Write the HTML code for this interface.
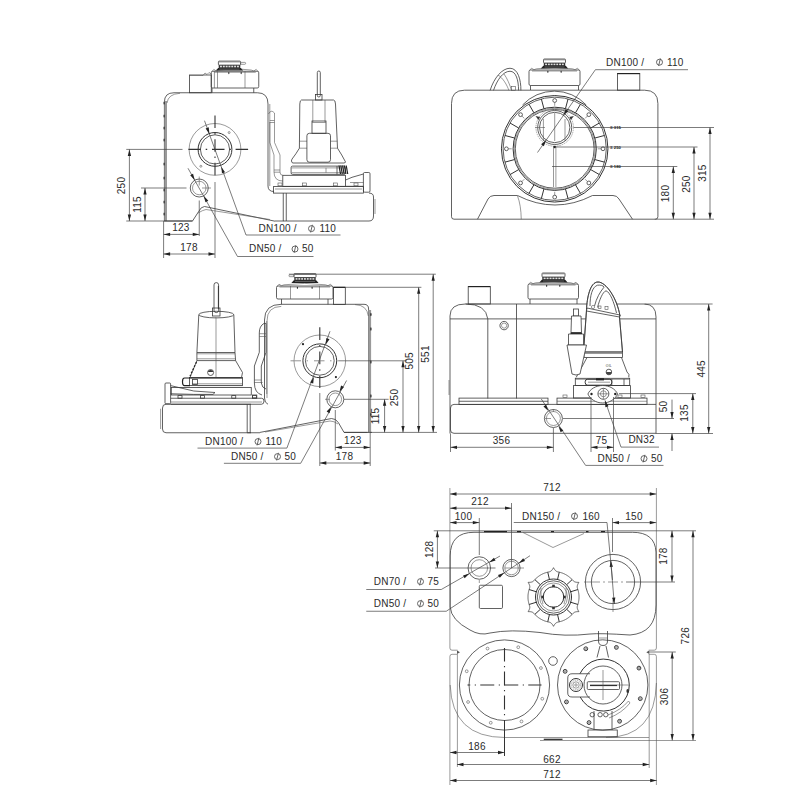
<!DOCTYPE html>
<html><head><meta charset="utf-8"><style>
html,body{margin:0;padding:0;background:#fff;}
svg{display:block;}
.o{fill:none;stroke:#3a3a3a;stroke-width:0.8}
.t{fill:none;stroke:#555;stroke-width:0.6}
.d{fill:none;stroke:#444;stroke-width:0.7}
.gw{fill:#9a9a9a;stroke:none}
.dk{fill:#222;stroke:none}
.dk2{fill:none;stroke:#222;stroke-width:1.2}
.ar{fill:#222;stroke:none}
.ph{fill:none;stroke:#555;stroke-width:0.9}
.cl{fill:none;stroke:#333;stroke-width:1.1;stroke-dasharray:14 4.5 1.2 4.3}
.g{fill:none;stroke:#888;stroke-width:0.7;stroke-dasharray:1.5 0.8}
.ow{fill:#fff;stroke:#3a3a3a;stroke-width:0.8}
.o1{fill:none;stroke:#333;stroke-width:1}
.o2{fill:none;stroke:#333;stroke-width:1.3}
.txb{font-family:"Liberation Sans",sans-serif;fill:#222;font-weight:bold}
.tx{font-family:"Liberation Sans",sans-serif;fill:#2a2a2a;letter-spacing:0.22px}
</style></head><body>
<svg width="800" height="800" viewBox="0 0 800 800">
<path d="M164.4,221 V102 Q164.4,92.75 174,92.75 H257.5 Q268,92.75 268,104 V186 Q268,191.5 274,191.5" class="o" />
<rect x="164.6" y="101" width="2.4" height="120" class="gw"/>
<path d="M167,103 Q168,94 180,93.3" class="t" />
<line x1="269.8" y1="104" x2="269.8" y2="186" class="t" />
<ellipse cx="164.1" cy="103" rx="0.6" ry="1.6" fill="#222"/>
<ellipse cx="164.1" cy="116" rx="0.6" ry="1.6" fill="#222"/>
<ellipse cx="164.1" cy="128" rx="0.6" ry="1.6" fill="#222"/>
<ellipse cx="164.1" cy="140" rx="0.6" ry="1.6" fill="#222"/>
<ellipse cx="164.1" cy="164" rx="0.6" ry="1.6" fill="#222"/>
<ellipse cx="164.1" cy="178" rx="0.6" ry="1.6" fill="#222"/>
<ellipse cx="164.1" cy="190" rx="0.6" ry="1.6" fill="#222"/>
<ellipse cx="164.1" cy="202" rx="0.6" ry="1.6" fill="#222"/>
<ellipse cx="164.1" cy="214" rx="0.6" ry="1.6" fill="#222"/>
<line x1="164.4" y1="221" x2="192.5" y2="221" class="o" />
<line x1="275" y1="221" x2="283.25" y2="221" class="o" />
<rect x="189.4" y="75" width="21.85" height="17.75" class="o"/>
<path d="M189.4,75.5 H203 L205,73 L207,74.5 L209,72.5 L211.25,74" class="t" />
<rect x="211.25" y="71.25" width="47.5" height="16.75" class="o" rx="1.5"/>
<path d="M211.75,71.75 L213.75,69.45 L216.25,70.95 L218.75,70.05" class="t"/>
<path d="M258.25,71.75 L256.25,69.45 L253.75,70.95 L251.25,70.05" class="t"/>
<path d="M218.75,70.05 Q235,67.25 251.25,70.05" class="t"/>
<line x1="214.25" y1="72.25" x2="255.75" y2="72.25" class="t"/>
<line x1="214.4" y1="71.25" x2="214.4" y2="88" class="t"/>
<line x1="217.5" y1="71.25" x2="217.5" y2="88" class="t"/>
<line x1="245" y1="71.25" x2="245" y2="88" class="t"/>
<path d="M212,88 V92.75 M253.75,88 V92.75" class="o"/>
<ellipse cx="228.82" cy="73.05" rx="0.6" ry="1.1" fill="#222"/>
<ellipse cx="241.18" cy="73.05" rx="0.6" ry="1.1" fill="#222"/>
<rect x="218.4" y="61.1" width="22.2" height="4" class="o" rx="0.8"/>
<rect x="218.4" y="61.1" width="22.2" height="1.3" fill="#8a8a8a"/>
<rect x="218.7" y="65.1" width="21.6" height="3.4" fill="#333"/>
<rect x="220" y="65.7" width="1.93" height="1.6" fill="#ddd"/>
<rect x="222.83" y="65.7" width="1.93" height="1.6" fill="#ddd"/>
<rect x="225.66" y="65.7" width="1.93" height="1.6" fill="#ddd"/>
<rect x="228.49" y="65.7" width="1.93" height="1.6" fill="#ddd"/>
<rect x="231.31" y="65.7" width="1.93" height="1.6" fill="#ddd"/>
<rect x="234.14" y="65.7" width="1.93" height="1.6" fill="#ddd"/>
<rect x="236.97" y="65.7" width="1.93" height="1.6" fill="#ddd"/>
<polygon points="218.2,67.9 240.8,67.9 243.2,70.5 215.8,70.5" fill="#222"/>
<line x1="219.4" y1="69.1" x2="239.6" y2="69.1" stroke="#888" stroke-width="0.6"/>
<rect x="240.6" y="62.4" width="5" height="1.9" class="t" rx="0.8"/>
<circle cx="215" cy="149.4" r="25.9" class="t" />
<circle cx="215" cy="149.4" r="16.9" class="o1" />
<circle cx="215" cy="149.4" r="14.6" class="o" />
<circle cx="229.14" cy="132.55" r="1" class="t" />
<circle cx="200.86" cy="166.25" r="1" class="t" />
<line x1="126.25" y1="149.4" x2="182.5" y2="149.4" class="d" />
<line x1="188.4" y1="149.4" x2="249" y2="149.4" fill="none" stroke="#333" stroke-width="1.1" stroke-dasharray="12.5 4.8 1.5 4.8" stroke-dashoffset="0"/>
<line x1="215" y1="115.6" x2="215" y2="176" fill="none" stroke="#333" stroke-width="1.1" stroke-dasharray="12.5 4.8 1.5 4.8" stroke-dashoffset="0"/>
<line x1="215" y1="182" x2="215" y2="258" class="d" />
<circle cx="199.25" cy="188" r="9" class="o" />
<circle cx="199.25" cy="188" r="6.75" class="t" />
<line x1="141" y1="188" x2="186.5" y2="188" class="d" />
<line x1="202" y1="188" x2="211" y2="188" class="t" />
<line x1="199.25" y1="176.5" x2="199.25" y2="185.5" class="t" />
<line x1="199.25" y1="200.5" x2="199.25" y2="236" class="d" />
<path d="M164.4,221 H192.5 L198.5,211.75 Q201,206.5 204.5,206.5 L275,221.2" class="o" />
<path d="M198,213 Q203,210 206,209.5 L270,219.5" class="t" />
<line x1="204.5" y1="120.7" x2="246" y2="235" class="d" />
<line x1="246" y1="235" x2="340.5" y2="235" class="d" />
<polygon points="209.4,134 205.63,128.46 208.73,127.33" class="ar"/>
<polygon points="221.3,166.7 225.07,172.24 221.97,173.37" class="ar"/>
<line x1="188" y1="168.25" x2="237.5" y2="256.5" class="d" />
<line x1="237.5" y1="256.5" x2="313.5" y2="256.5" class="d" />
<polygon points="194.8,180.2 190.17,175.35 193.05,173.73" class="ar"/>
<polygon points="203.7,195.8 208.33,200.65 205.45,202.27" class="ar"/>
<text x="258.6" y="232" class="tx" text-anchor="start" font-size="10">DN100 /</text>
<circle cx="311.5" cy="228.6" r="3" class="ph" />
<line x1="310.6" y1="232.4" x2="312.4" y2="224.8" class="ph" />
<text x="319.5" y="232" class="tx" text-anchor="start" font-size="10">110</text>
<text x="249" y="252.3" class="tx" text-anchor="start" font-size="10">DN50 /</text>
<circle cx="295" cy="249" r="3" class="ph" />
<line x1="294.1" y1="252.8" x2="295.9" y2="245.2" class="ph" />
<text x="302" y="252.3" class="tx" text-anchor="start" font-size="10">50</text>
<line x1="126.25" y1="221" x2="165" y2="221" class="d" />
<line x1="129.4" y1="149.4" x2="129.4" y2="221" class="d" />
<polygon points="129.4,149.4 131.05,155.9 127.75,155.9" class="ar"/>
<polygon points="129.4,221 127.75,214.5 131.05,214.5" class="ar"/>
<line x1="145" y1="188" x2="145" y2="221" class="d" />
<polygon points="145,188 146.65,194.5 143.35,194.5" class="ar"/>
<polygon points="145,221 143.35,214.5 146.65,214.5" class="ar"/>
<text x="124.5" y="185.5" class="tx" text-anchor="middle" font-size="10" transform="rotate(-90 124.5 185.5)">250</text>
<text x="140.5" y="204.5" class="tx" text-anchor="middle" font-size="10" transform="rotate(-90 140.5 204.5)">115</text>
<line x1="163.6" y1="221" x2="163.6" y2="258" class="d" />
<line x1="163.6" y1="234.4" x2="199.25" y2="234.4" class="d" />
<polygon points="163.6,234.4 170.1,232.75 170.1,236.05" class="ar"/>
<polygon points="199.25,234.4 192.75,236.05 192.75,232.75" class="ar"/>
<line x1="163.6" y1="254" x2="215" y2="254" class="d" />
<polygon points="163.6,254 170.1,252.35 170.1,255.65" class="ar"/>
<polygon points="215,254 208.5,255.65 208.5,252.35" class="ar"/>
<text x="180.9" y="230.6" class="tx" text-anchor="middle" font-size="10">123</text>
<text x="189" y="250.5" class="tx" text-anchor="middle" font-size="10">178</text>
<path d="M268.5,114 Q271,109 274.5,113 V142.5 L280,155 V172" class="t" />
<path d="M269.8,122 V142.5 L274,155 V172 Q274,181 282.8,181" class="t" />
<path d="M280,172 Q280,175.3 282.8,175.3" class="t" />
<line x1="269.8" y1="120.5" x2="274.5" y2="120.5" class="t" />
<line x1="269.8" y1="122.5" x2="274.5" y2="122.5" class="t" />
<line x1="274" y1="170" x2="280" y2="170" class="t" />
<line x1="274" y1="172.2" x2="280" y2="172.2" class="t" />
<rect x="273.4" y="186.6" width="90" height="6.5" class="o"/>
<line x1="275" y1="189" x2="362" y2="189" class="t" />
<rect x="282.8" y="175.3" width="62.8" height="11" class="o"/>
<path d="M345.6,180 L352,177.3 L363.4,174 M345.6,186.3 H363.4" class="o" />
<line x1="350" y1="182.5" x2="363.4" y2="182.5" class="t" />
<rect x="363.4" y="172.5" width="6.6" height="19.7" class="o" rx="1.2"/>
<rect x="278" y="183" width="4" height="2.8" class="t"/>
<rect x="302.4" y="183" width="4" height="2.8" class="t"/>
<rect x="333.3" y="183" width="4" height="2.8" class="t"/>
<rect x="354" y="183" width="4" height="2.8" class="t"/>
<path d="M283.25,193.1 V221 M286.25,193.1 V221 M283,221 H369 Q373.5,221 373.5,216 V197 Q373.5,193.1 369,193.1" class="o" />
<line x1="375" y1="199" x2="375" y2="214" class="t" />
<path d="M301.5,100 Q300,100 299.8,104 L299.4,148.2 Q296,154 292,159.1 Q290.5,161 292.5,163 H344 Q346,162.5 345.4,161.75 Q342,155 337.5,148.2 L335.5,104 Q335.3,100 333.5,100 Z" class="o" />
<line x1="299.5" y1="141.2" x2="307" y2="141.2" class="t" />
<line x1="330.6" y1="141.2" x2="337.3" y2="141.2" class="t" />
<line x1="299.4" y1="148.2" x2="307" y2="148.2" class="t" />
<line x1="330.6" y1="148.2" x2="337.5" y2="148.2" class="t" />
<line x1="312.8" y1="100" x2="312.8" y2="122" class="t" />
<line x1="325" y1="100" x2="325" y2="122" class="t" />
<rect x="312" y="121" width="14" height="12.3" class="o"/>
<line x1="312" y1="122.5" x2="326" y2="122.5" class="t" />
<rect x="306.9" y="133.3" width="23.6" height="28.9" class="o" rx="2.5"/>
<rect x="317.3" y="71" width="3" height="26" class="o" rx="1.5"/>
<rect x="315.5" y="94.5" width="6.5" height="5.5" class="o"/>
<rect x="291.1" y="166.1" width="54.3" height="8.3" class="o" rx="1.5"/>
<line x1="291.5" y1="167.9" x2="345" y2="167.9" class="t" />
<line x1="291.5" y1="172.7" x2="345" y2="172.7" class="t" />
<line x1="326" y1="167.9" x2="326" y2="172.7" class="t" />
<line x1="337" y1="166.1" x2="337" y2="174.4" class="o" />
<line x1="339" y1="165.5" x2="340.5" y2="174" class="dk2" />
<line x1="340.8" y1="165.5" x2="342.3" y2="174" class="dk2" />
<line x1="342.6" y1="165.5" x2="344.1" y2="174" class="dk2" />
<line x1="344.4" y1="165.5" x2="345.9" y2="174" class="dk2" />
<line x1="346.2" y1="165.5" x2="347.7" y2="174" class="dk2" />
<path d="M264.5,398 V320 Q264.5,304.3 281.25,304.3 H364 Q368.6,304.3 368.6,309 V432.4" class="o" />
<path d="M267,398 V321 Q267,306.6 281.25,306.4" class="t" />
<rect x="368.4" y="310" width="2.7" height="122.4" class="gw"/>
<path d="M355,304.6 Q367,305 368.3,316" class="t" />
<ellipse cx="370.9" cy="314.5" rx="0.65" ry="1.8" fill="#222"/>
<ellipse cx="370.9" cy="329" rx="0.65" ry="1.8" fill="#222"/>
<ellipse cx="370.9" cy="362" rx="0.65" ry="1.8" fill="#222"/>
<ellipse cx="370.9" cy="396" rx="0.65" ry="1.8" fill="#222"/>
<ellipse cx="370.9" cy="414.6" rx="0.65" ry="1.8" fill="#222"/>
<line x1="247.2" y1="432.75" x2="260" y2="432.75" class="o" />
<line x1="344" y1="432.4" x2="372" y2="432.4" class="o" />
<path d="M264.5,398 Q264.5,403 268,404.25" class="o" />
<rect x="276.5" y="286" width="56.5" height="13" class="o" rx="1.5"/>
<path d="M277,286.5 L279,284.2 L281.5,285.7 L284,284.8" class="t"/>
<path d="M332.5,286.5 L330.5,284.2 L328,285.7 L325.5,284.8" class="t"/>
<path d="M284,284.8 Q304.75,282 325.5,284.8" class="t"/>
<line x1="279.5" y1="287" x2="330" y2="287" class="t"/>
<line x1="290.5" y1="286" x2="290.5" y2="299" class="t"/>
<line x1="319.5" y1="286" x2="319.5" y2="299" class="t"/>
<path d="M281.5,299 V304.4 M328,299 V304.4" class="o"/>
<ellipse cx="297.4" cy="287.8" rx="0.6" ry="1.1" fill="#222"/>
<ellipse cx="312.1" cy="287.8" rx="0.6" ry="1.1" fill="#222"/>
<rect x="294" y="273.5" width="22" height="4" class="o" rx="0.8"/>
<rect x="294" y="273.5" width="22" height="1.3" fill="#8a8a8a"/>
<rect x="294.3" y="277.5" width="21.4" height="3.4" fill="#333"/>
<rect x="295.6" y="278.1" width="1.9" height="1.6" fill="#ddd"/>
<rect x="298.4" y="278.1" width="1.9" height="1.6" fill="#ddd"/>
<rect x="301.2" y="278.1" width="1.9" height="1.6" fill="#ddd"/>
<rect x="304" y="278.1" width="1.9" height="1.6" fill="#ddd"/>
<rect x="306.8" y="278.1" width="1.9" height="1.6" fill="#ddd"/>
<rect x="309.6" y="278.1" width="1.9" height="1.6" fill="#ddd"/>
<rect x="312.4" y="278.1" width="1.9" height="1.6" fill="#ddd"/>
<polygon points="293.8,280.3 316.2,280.3 318.6,282.9 291.4,282.9" fill="#222"/>
<line x1="295" y1="281.5" x2="315" y2="281.5" stroke="#888" stroke-width="0.6"/>
<rect x="289" y="274.8" width="5" height="1.9" class="t" rx="0.8"/>
<rect x="333.5" y="287.3" width="11.8" height="17.1" class="o"/>
<line x1="333.5" y1="287.3" x2="345.3" y2="287.3" class="dk2" />
<circle cx="319.8" cy="360.8" r="25.8" class="t" />
<circle cx="319.8" cy="360.8" r="16.9" class="o1" />
<circle cx="319.8" cy="360.8" r="14.4" class="o" />
<circle cx="303" cy="344.2" r="1.1" class="dk" />
<circle cx="335.9" cy="377.1" r="1.1" class="dk" />
<line x1="319.8" y1="327.3" x2="319.8" y2="388" fill="none" stroke="#333" stroke-width="1.1" stroke-dasharray="12.8 4.9 1.5 5" stroke-dashoffset="0"/>
<line x1="319.8" y1="393" x2="319.8" y2="466" class="d" />
<line x1="286" y1="360.8" x2="339" y2="360.8" fill="none" stroke="#888" stroke-width="0.9" stroke-dasharray="10.5 5.5 1.5 6" stroke-dashoffset="-4.5"/>
<line x1="339" y1="360.8" x2="407" y2="360.8" class="d" />
<circle cx="335.3" cy="399.3" r="8.5" class="o" />
<circle cx="335.3" cy="399.3" r="6.3" class="t" />
<line x1="325" y1="399.3" x2="330" y2="399.3" class="t" />
<line x1="344" y1="399.3" x2="388.6" y2="399.3" class="d" />
<line x1="335.3" y1="410" x2="335.3" y2="450.5" class="d" />
<path d="M367.6,432.4 H344 L338.5,422.8 Q336,418.5 331.5,418.5 L260,432.4" class="o" />
<path d="M338,424 Q334,421 330,421 L265,432" class="t" />
<line x1="330" y1="331.25" x2="286.9" y2="448.1" class="d" />
<line x1="286.9" y1="448.1" x2="197.5" y2="448.1" class="d" />
<polygon points="325.7,344.7 326.4,338.03 329.49,339.17" class="ar"/>
<polygon points="313.9,376.9 313.2,383.57 310.11,382.43" class="ar"/>
<line x1="346.6" y1="380.5" x2="300.7" y2="463.3" class="d" />
<line x1="300.7" y1="463.3" x2="223.9" y2="463.3" class="d" />
<polygon points="339.4,391.9 341.1,385.41 343.99,387.01" class="ar"/>
<polygon points="331.2,406.7 329.5,413.19 326.61,411.59" class="ar"/>
<text x="205" y="445" class="tx" text-anchor="start" font-size="10">DN100 /</text>
<circle cx="258" cy="441.6" r="3" class="ph" />
<line x1="257.1" y1="445.4" x2="258.9" y2="437.8" class="ph" />
<text x="265.5" y="445" class="tx" text-anchor="start" font-size="10">110</text>
<text x="231" y="460" class="tx" text-anchor="start" font-size="10">DN50 /</text>
<circle cx="277.5" cy="456.6" r="3" class="ph" />
<line x1="276.6" y1="460.4" x2="278.4" y2="452.8" class="ph" />
<text x="284.5" y="460" class="tx" text-anchor="start" font-size="10">50</text>
<line x1="288.9" y1="274.2" x2="435.8" y2="274.2" class="d" />
<line x1="433.2" y1="274.2" x2="433.2" y2="432.4" class="d" />
<polygon points="433.2,274.2 434.85,280.7 431.55,280.7" class="ar"/>
<polygon points="433.2,432.4 431.55,425.9 434.85,425.9" class="ar"/>
<line x1="345.3" y1="287.3" x2="421.4" y2="287.3" class="d" />
<line x1="418.7" y1="287.3" x2="418.7" y2="432.4" class="d" />
<polygon points="418.7,287.3 420.35,293.8 417.05,293.8" class="ar"/>
<polygon points="418.7,432.4 417.05,425.9 420.35,425.9" class="ar"/>
<line x1="403" y1="360.8" x2="403" y2="432.4" class="d" />
<polygon points="403,360.8 404.65,367.3 401.35,367.3" class="ar"/>
<polygon points="403,432.4 401.35,425.9 404.65,425.9" class="ar"/>
<line x1="384.6" y1="399.3" x2="384.6" y2="432.4" class="d" />
<polygon points="384.6,399.3 386.25,405.8 382.95,405.8" class="ar"/>
<polygon points="384.6,432.4 382.95,425.9 386.25,425.9" class="ar"/>
<line x1="370" y1="432.4" x2="437" y2="432.4" class="d" />
<text x="428.9" y="354" class="tx" text-anchor="middle" font-size="10" transform="rotate(-90 428.9 354)">551</text>
<text x="413.2" y="360.8" class="tx" text-anchor="middle" font-size="10" transform="rotate(-90 413.2 360.8)">505</text>
<text x="397.9" y="397.5" class="tx" text-anchor="middle" font-size="10" transform="rotate(-90 397.9 397.5)">250</text>
<text x="379.1" y="416" class="tx" text-anchor="middle" font-size="10" transform="rotate(-90 379.1 416)">115</text>
<line x1="370.2" y1="432.4" x2="370.2" y2="466" class="d" />
<line x1="335.3" y1="447.4" x2="370.2" y2="447.4" class="d" />
<polygon points="335.3,447.4 341.8,445.75 341.8,449.05" class="ar"/>
<polygon points="370.2,447.4 363.7,449.05 363.7,445.75" class="ar"/>
<line x1="319.8" y1="463" x2="370.2" y2="463" class="d" />
<polygon points="319.8,463 326.3,461.35 326.3,464.65" class="ar"/>
<polygon points="370.2,463 363.7,464.65 363.7,461.35" class="ar"/>
<text x="352.8" y="443.7" class="tx" text-anchor="middle" font-size="10">123</text>
<text x="344.5" y="460.3" class="tx" text-anchor="middle" font-size="10">178</text>
<path d="M259.3,333 V352.3 L254.4,366 V380" class="o" />
<path d="M266,333 V352.3 L261.3,366 V380" class="o" />
<path d="M259.3,333 Q259.3,326 264,323.4 H266 V333" class="o" />
<line x1="259.3" y1="333.7" x2="266" y2="333.7" class="t" />
<line x1="259.3" y1="336.5" x2="266" y2="336.5" class="t" />
<line x1="254.4" y1="380" x2="261.3" y2="380" class="t" />
<line x1="254.4" y1="382.5" x2="262.6" y2="382.5" class="t" />
<path d="M254.4,380 V383 Q254.4,393 262,395" class="o" />
<path d="M261.3,380 V383 Q262,388 266,389" class="o" />
<rect x="252.4" y="395" width="4.4" height="3" class="o"/>
<line x1="266.8" y1="321" x2="266.8" y2="394" class="t" />
<path d="M251,404.25 H166 Q162.5,404.25 162.5,408 V429 Q162.5,432.75 166,432.75 H251" class="o" />
<line x1="247.2" y1="404.25" x2="247.2" y2="432.75" class="o" />
<line x1="250.2" y1="404.25" x2="250.2" y2="432.75" class="o" />
<line x1="160.6" y1="408.75" x2="160.6" y2="429" class="t" />
<path d="M170.75,398.25 H261.5 Q264,398.25 264,401 Q264,404.25 261.5,404.25 H170.75" class="o" />
<line x1="170.75" y1="402" x2="262" y2="402" class="t" />
<rect x="171.25" y="387.5" width="80" height="7.5" class="o"/>
<rect x="165" y="383" width="5.6" height="20.75" class="o" rx="1"/>
<path d="M170.6,385.6 L193.75,391 L215,392.5 L213,394.4 L193.75,394.4 L170.6,393.75" class="o" />
<rect x="178" y="395.6" width="4" height="2.6" class="o"/>
<rect x="200.5" y="395.6" width="4" height="2.6" class="o"/>
<rect x="231.75" y="395.6" width="4" height="2.6" class="o"/>
<rect x="252.4" y="395.6" width="4" height="2.6" class="o"/>
<path d="M198.8,314.6 L196.9,352.5 L196.9,360.6 L190,377.5 H241.5 L242.5,372.5 L235.6,360.6 L235,352.5 L233.8,314.6" class="o" />
<ellipse cx="216.3" cy="314.6" rx="17.5" ry="3.3" class="o"/>
<line x1="218.4" y1="286" x2="218.4" y2="309" class="o1" />
<line x1="196.9" y1="352.5" x2="235" y2="352.5" class="o" />
<line x1="196.9" y1="353.8" x2="235" y2="353.8" class="t" />
<line x1="196.9" y1="358.8" x2="235.6" y2="358.8" class="t" />
<line x1="196.9" y1="360.6" x2="235.6" y2="360.6" class="o" />
<path d="M196.5,362 L190,376" stroke="#222" stroke-width="1.2" stroke-dasharray="2 1.5" fill="none"/>
<line x1="216" y1="317" x2="216" y2="377" class="t" />
<circle cx="210.6" cy="372.5" r="3" class="o" />
<path d="M207.8,372 A3,3 0 0 1 213.4,372 Z" fill="#333"/>
<rect x="189.4" y="377.5" width="53.1" height="8.1" class="o"/>
<line x1="189.4" y1="378.3" x2="242.5" y2="378.3" class="o" />
<line x1="192" y1="383.8" x2="242.5" y2="383.8" class="t" />
<path d="M190,378 H184.5 Q182.5,378 182.5,381.5 Q182.5,385.6 184.5,385.6 H190" class="dk2" />
<rect x="192.5" y="379.4" width="5" height="5" class="o"/>
<line x1="197.5" y1="385.6" x2="242.5" y2="385.6" class="t" />
<line x1="197.5" y1="387.5" x2="242.5" y2="387.5" class="t" />
<rect x="214" y="282.6" width="4.6" height="30" class="o" rx="2.3"/>
<rect x="212.5" y="308" width="7.5" height="8" class="o"/>
<path d="M450,433.5 V316 Q450,304 465.5,304 H644 Q656,304 656,317 V433.5" class="o" />
<line x1="450" y1="318.9" x2="656" y2="318.9" class="o" />
<path d="M465.5,304 Q486,304 487.8,318.9 V398.5" class="o" />
<line x1="516.5" y1="304" x2="516.5" y2="398.5" class="o" />
<line x1="449" y1="380" x2="449" y2="395" class="t" />
<rect x="468.2" y="286.6" width="22.1" height="17.4" class="o"/>
<line x1="468.2" y1="286.6" x2="490.3" y2="286.6" class="dk2" />
<circle cx="504.1" cy="325.6" r="4.2" class="o" />
<circle cx="504.1" cy="325.6" r="2.6" class="t" />
<rect x="528" y="284" width="50.5" height="15" class="o" rx="1.5"/>
<path d="M528.5,284.5 L530.5,282.2 L533,283.7 L535.5,282.8" class="t"/>
<path d="M578,284.5 L576,282.2 L573.5,283.7 L571,282.8" class="t"/>
<path d="M535.5,282.8 Q553.25,280 571,282.8" class="t"/>
<line x1="531" y1="285" x2="575.5" y2="285" class="t"/>
<path d="M530,299 V304 M577,299 V304" class="o"/>
<ellipse cx="546.68" cy="285.8" rx="0.6" ry="1.1" fill="#222"/>
<ellipse cx="559.82" cy="285.8" rx="0.6" ry="1.1" fill="#222"/>
<rect x="542" y="273" width="23" height="4" class="o" rx="0.8"/>
<rect x="542" y="273" width="23" height="1.3" fill="#8a8a8a"/>
<rect x="542.3" y="277" width="22.4" height="3.4" fill="#333"/>
<rect x="543.6" y="277.6" width="2.04" height="1.6" fill="#ddd"/>
<rect x="546.54" y="277.6" width="2.04" height="1.6" fill="#ddd"/>
<rect x="549.49" y="277.6" width="2.04" height="1.6" fill="#ddd"/>
<rect x="552.43" y="277.6" width="2.04" height="1.6" fill="#ddd"/>
<rect x="555.37" y="277.6" width="2.04" height="1.6" fill="#ddd"/>
<rect x="558.31" y="277.6" width="2.04" height="1.6" fill="#ddd"/>
<rect x="561.26" y="277.6" width="2.04" height="1.6" fill="#ddd"/>
<polygon points="541.8,279.8 565.2,279.8 567.6,282.4 539.4,282.4" fill="#222"/>
<line x1="543" y1="281" x2="564" y2="281" stroke="#888" stroke-width="0.6"/>
<path d="M656,404.4 H454 Q450.5,404.4 450.5,408 V430 Q450.5,433.3 454,433.3 H656" class="o" />
<rect x="459" y="398.1" width="89" height="6.3" class="o"/>
<line x1="459" y1="401.25" x2="548" y2="401.25" class="o" />
<rect x="557" y="398.1" width="90" height="6.3" class="o"/>
<line x1="557" y1="401.25" x2="647" y2="401.25" class="t" />
<circle cx="553.4" cy="418.5" r="9" class="o" />
<circle cx="553.4" cy="418.5" r="7" class="t" />
<line x1="545" y1="418.5" x2="551" y2="418.5" class="t" />
<line x1="563" y1="418.5" x2="674" y2="418.5" class="d" />
<line x1="553.4" y1="409" x2="553.4" y2="412" class="t" />
<line x1="553.4" y1="428" x2="553.4" y2="452" class="d" />
<path d="M586.5,309.5 C587,298 590,282 598,282 C606,282 617,298 620,316 L619.5,317 L622.5,352 L584,352 L584,345 Z" class="ow" />
<path d="M586.5,309.5 C587,298 590,282 598,282 C606,282 617,298 620,316" class="o" />
<path d="M590,306 C590,296 592,287 597.5,285.2 C600.5,284.8 603.5,285.5 604,287.2 C600,292 596.5,298 594.5,306" class="o" />
<path d="M597.5,307.5 C599.5,300 602.5,292 606,290.8 C610,292 614,302 616.5,313" class="o" />
<path d="M587,308 L620,315 L619.5,317 L586.5,311 Z" class="o" />
<circle cx="593" cy="307" r="1.6" class="t" />
<rect x="598.5" y="306" width="2.5" height="2.6" class="t"/>
<rect x="605" y="306.5" width="3" height="2.8" class="t"/>
<path d="M586.5,311 L584,345 L584,352 M619.5,317 L622.5,352" class="o" />
<rect x="584" y="352" width="38.6" height="5.5" class="o"/>
<line x1="584" y1="353.5" x2="622.6" y2="353.5" class="t" />
<path d="M587,357.5 L576.2,377.4 M621.5,357.5 L627,372 Q630,374 628.8,377.4" class="o" />
<rect x="573.5" y="309" width="5" height="7" class="ow"/>
<path d="M571.5,316 H581 L581.5,332.5 H571 Z" class="ow" />
<rect x="570.5" y="332.5" width="11.5" height="1.6" class="dk"/>
<path d="M568.5,334 H583.5 V345 H568.5 Z" class="ow" />
<path d="M567,345 H586.5 L580,374 Q576,376 572,374 Z" class="ow" />
<circle cx="608.9" cy="372" r="2.8" class="o" />
<path d="M606.1,372 A2.8,2.8 0 0 0 611.7,372 Z" fill="#444"/>
<text x="608.9" y="366.5" class="tx" text-anchor="middle" font-size="3.4">OIL</text>
<rect x="575.3" y="378.3" width="54.4" height="7.3" class="o"/>
<line x1="575.3" y1="379.3" x2="629.7" y2="379.3" class="t" />
<rect x="585.2" y="379.2" width="26.6" height="6" class="o1" rx="2.5"/>
<rect x="596" y="378.2" width="8" height="2.2" class="dk"/>
<line x1="588" y1="382.2" x2="610" y2="382.2" class="t" />
<line x1="611.8" y1="379" x2="611.8" y2="385.6" class="o" />
<line x1="624" y1="379" x2="624" y2="385.6" class="o" />
<rect x="573.5" y="385.6" width="57.1" height="12.4" class="o"/>
<path d="M587.9,394 C590,389 596,385.5 602.7,385.5 C609.5,385.5 615.5,389 617.6,394 C615.5,399 609.5,403 602.7,403 C596,403 590,399 587.9,394 Z" class="ow" />
<circle cx="603.4" cy="393.8" r="5.5" class="o" />
<circle cx="603.4" cy="393.8" r="3" class="t" />
<circle cx="591.5" cy="394" r="1.2" class="dk" />
<circle cx="615.3" cy="394" r="1.2" class="dk" />
<line x1="598" y1="393.8" x2="609" y2="393.8" class="t" />
<line x1="603.4" y1="388.3" x2="603.4" y2="399.3" class="t" />
<rect x="563" y="395" width="4" height="2.5" class="t"/>
<rect x="618" y="395" width="4" height="2.5" class="t"/>
<rect x="641" y="395" width="4" height="2.5" class="t"/>
<line x1="619" y1="393.6" x2="696" y2="393.6" class="d" />
<line x1="644.6" y1="304" x2="712.6" y2="304" class="d" />
<line x1="708.7" y1="304" x2="708.7" y2="433.5" class="d" />
<polygon points="708.7,304 710.35,310.5 707.05,310.5" class="ar"/>
<polygon points="708.7,433.5 707.05,427 710.35,427" class="ar"/>
<line x1="692.8" y1="393.6" x2="692.8" y2="433.5" class="d" />
<polygon points="692.8,393.6 694.45,400.1 691.15,400.1" class="ar"/>
<polygon points="692.8,433.5 691.15,427 694.45,427" class="ar"/>
<line x1="656" y1="433.5" x2="713" y2="433.5" class="d" />
<line x1="672" y1="399.6" x2="672" y2="418.5" class="d" />
<polygon points="672,418.5 670.35,412 673.65,412" class="ar"/>
<line x1="672" y1="433.5" x2="672" y2="451" class="d" />
<polygon points="672,433.5 673.65,440 670.35,440" class="ar"/>
<text x="704.7" y="368.8" class="tx" text-anchor="middle" font-size="10" transform="rotate(-90 704.7 368.8)">445</text>
<text x="687.9" y="413" class="tx" text-anchor="middle" font-size="10" transform="rotate(-90 687.9 413)">135</text>
<text x="667.4" y="406.5" class="tx" text-anchor="middle" font-size="10" transform="rotate(-90 667.4 406.5)">50</text>
<line x1="450.5" y1="433.5" x2="450.5" y2="452" class="d" />
<line x1="450.5" y1="447.3" x2="553.4" y2="447.3" class="d" />
<polygon points="450.5,447.3 457,445.65 457,448.95" class="ar"/>
<polygon points="553.4,447.3 546.9,448.95 546.9,445.65" class="ar"/>
<text x="501.5" y="444" class="tx" text-anchor="middle" font-size="10">356</text>
<line x1="591" y1="397" x2="591" y2="452" class="d" />
<line x1="613.5" y1="397" x2="613.5" y2="452" class="d" />
<line x1="591" y1="447.3" x2="613.5" y2="447.3" class="d" />
<polygon points="591,447.3 597.5,445.65 597.5,448.95" class="ar"/>
<polygon points="613.5,447.3 607,448.95 607,445.65" class="ar"/>
<text x="601.5" y="444" class="tx" text-anchor="middle" font-size="10">75</text>
<line x1="541.3" y1="399" x2="585.6" y2="465.4" class="d" />
<line x1="585.6" y1="465.4" x2="663.5" y2="465.4" class="d" />
<polygon points="548.4,411 543.42,406.51 546.17,404.68" class="ar"/>
<polygon points="558.4,426 563.38,430.49 560.63,432.32" class="ar"/>
<line x1="605" y1="400.5" x2="621" y2="447.1" class="d" />
<line x1="621" y1="447.1" x2="659" y2="447.1" class="d" />
<polygon points="605,400.5 608.53,406.2 605.38,407.2" class="ar"/>
<text x="628.4" y="443.4" class="tx" text-anchor="start" font-size="10">DN32</text>
<text x="597.5" y="462" class="tx" text-anchor="start" font-size="10">DN50 /</text>
<circle cx="644" cy="458.6" r="3" class="ph" />
<line x1="643.1" y1="462.4" x2="644.9" y2="454.8" class="ph" />
<text x="651" y="462" class="tx" text-anchor="start" font-size="10">50</text>
<path d="M451.5,216.7 V103.5 Q451.5,90.2 464.5,90.2 H644.6 Q657.9,90.2 657.9,103.5 V216.7 Q657.9,219.2 655.4,219.2 H454 Q451.5,219.2 451.5,216.7 Z" class="o" />
<rect x="529" y="70" width="51" height="15.5" class="o" rx="1.5"/>
<path d="M529.5,70.5 L531.5,68.2 L534,69.7 L536.5,68.8" class="t"/>
<path d="M579.5,70.5 L577.5,68.2 L575,69.7 L572.5,68.8" class="t"/>
<path d="M536.5,68.8 Q554.5,66 572.5,68.8" class="t"/>
<line x1="532" y1="71" x2="577" y2="71" class="t"/>
<path d="M530.5,85.5 V90 M578.5,85.5 V90" class="o"/>
<ellipse cx="547.87" cy="71.8" rx="0.6" ry="1.1" fill="#222"/>
<ellipse cx="561.13" cy="71.8" rx="0.6" ry="1.1" fill="#222"/>
<rect x="543.5" y="59" width="22" height="4" class="o" rx="0.8"/>
<rect x="543.5" y="59" width="22" height="1.3" fill="#8a8a8a"/>
<rect x="543.8" y="63" width="21.4" height="3.4" fill="#333"/>
<rect x="545.1" y="63.6" width="1.9" height="1.6" fill="#ddd"/>
<rect x="547.9" y="63.6" width="1.9" height="1.6" fill="#ddd"/>
<rect x="550.7" y="63.6" width="1.9" height="1.6" fill="#ddd"/>
<rect x="553.5" y="63.6" width="1.9" height="1.6" fill="#ddd"/>
<rect x="556.3" y="63.6" width="1.9" height="1.6" fill="#ddd"/>
<rect x="559.1" y="63.6" width="1.9" height="1.6" fill="#ddd"/>
<rect x="561.9" y="63.6" width="1.9" height="1.6" fill="#ddd"/>
<polygon points="543.3,65.8 565.7,65.8 568.1,68.4 540.9,68.4" fill="#222"/>
<line x1="544.5" y1="67" x2="564.5" y2="67" stroke="#888" stroke-width="0.6"/>
<path d="M490.1,90.4 C494,78 502,68.25 510,68.25 C518,68.25 521,80 520.9,90.4" class="o" />
<path d="M493.5,90.4 C497,80 503,71.25 510,71.25 C516,71.25 518.5,80 518.6,90.4" class="o" />
<path d="M498,75 C503,78 507,85 508.9,90.4" class="t" />
<path d="M504,74 C507,78 510,85 511.5,90.4" class="t" />
<rect x="511.5" y="86.3" width="4" height="4" class="t"/>
<rect x="617.5" y="73.5" width="22.3" height="16.7" class="o"/>
<line x1="617.5" y1="73.6" x2="639.8" y2="73.6" class="dk2" />
<path d="M522.5,105 A43.6,43.6 0 0 1 586.25,105" class="o" />
<circle cx="554.7" cy="148.8" r="53.25" class="o1" />
<circle cx="554.7" cy="148.8" r="51.6" class="o" />
<circle cx="554.7" cy="148.8" r="41.6" class="o1" />
<circle cx="554.7" cy="148.8" r="39.4" class="o" />
<circle cx="554.7" cy="148.8" r="40.5" class="t" />
<line x1="594.88" y1="138.03" x2="604.54" y2="135.44" class="o1" />
<line x1="594.88" y1="159.57" x2="604.54" y2="162.16" class="o1" />
<circle cx="603" cy="148.8" r="1.9" class="o" />
<line x1="601.1" y1="148.8" x2="597.7" y2="148.8" class="t" />
<line x1="590.73" y1="169.6" x2="599.39" y2="174.6" class="o1" />
<line x1="575.5" y1="184.83" x2="580.5" y2="193.49" class="o1" />
<circle cx="588.85" cy="182.95" r="1.9" class="o" />
<line x1="587.51" y1="181.61" x2="585.11" y2="179.21" class="t" />
<line x1="565.47" y1="188.98" x2="568.06" y2="198.64" class="o1" />
<line x1="543.93" y1="188.98" x2="541.34" y2="198.64" class="o1" />
<circle cx="554.7" cy="197.1" r="1.9" class="o" />
<line x1="554.7" y1="195.2" x2="554.7" y2="191.8" class="t" />
<line x1="533.9" y1="184.83" x2="528.9" y2="193.49" class="o1" />
<line x1="518.67" y1="169.6" x2="510.01" y2="174.6" class="o1" />
<circle cx="520.55" cy="182.95" r="1.9" class="o" />
<line x1="521.89" y1="181.61" x2="524.29" y2="179.21" class="t" />
<line x1="514.52" y1="159.57" x2="504.86" y2="162.16" class="o1" />
<line x1="514.52" y1="138.03" x2="504.86" y2="135.44" class="o1" />
<circle cx="506.4" cy="148.8" r="1.9" class="o" />
<line x1="508.3" y1="148.8" x2="511.7" y2="148.8" class="t" />
<line x1="518.67" y1="128" x2="510.01" y2="123" class="o1" />
<line x1="533.9" y1="112.77" x2="528.9" y2="104.11" class="o1" />
<circle cx="520.55" cy="114.65" r="1.9" class="o" />
<line x1="521.89" y1="115.99" x2="524.29" y2="118.39" class="t" />
<line x1="543.93" y1="108.62" x2="541.34" y2="98.96" class="o1" />
<line x1="565.47" y1="108.62" x2="568.06" y2="98.96" class="o1" />
<circle cx="554.7" cy="100.5" r="1.9" class="o" />
<line x1="554.7" y1="102.4" x2="554.7" y2="105.8" class="t" />
<line x1="575.5" y1="112.77" x2="580.5" y2="104.11" class="o1" />
<line x1="590.73" y1="128" x2="599.39" y2="123" class="o1" />
<circle cx="588.85" cy="114.65" r="1.9" class="o" />
<line x1="587.51" y1="115.99" x2="585.11" y2="118.39" class="t" />
<circle cx="554.7" cy="127.5" r="18.75" class="g" />
<circle cx="554.7" cy="127.5" r="17" class="o" />
<circle cx="554.7" cy="127.5" r="15.2" class="o" />
<line x1="543.4" y1="119" x2="543.4" y2="141" class="t" />
<line x1="565" y1="119" x2="565" y2="141" class="t" />
<line x1="554.7" y1="113" x2="554.7" y2="141" class="t" />
<line x1="553.5" y1="146" x2="553.5" y2="187" class="t" />
<line x1="555.9" y1="146" x2="555.9" y2="187" class="t" />
<circle cx="554.7" cy="147" r="1.2" class="dk" />
<line x1="535" y1="127.5" x2="545" y2="127.5" class="t" />
<polygon points="535.5,116 540,117 538.5,120" fill="#333"/>
<polygon points="573.9,116 569.4,117 570.9,120" fill="#333"/>
<line x1="573.5" y1="127.5" x2="714" y2="127.5" class="d" />
<line x1="556" y1="147" x2="697.5" y2="147" class="d" />
<line x1="552" y1="166.5" x2="677.3" y2="166.5" class="d" />
<text x="610" y="129" class="txb" text-anchor="start" font-size="4.2">Ξ 315</text>
<text x="610" y="148.8" class="txb" text-anchor="start" font-size="4.2">Ξ 250</text>
<text x="610" y="168" class="txb" text-anchor="start" font-size="4.2">Ξ 180</text>
<path d="M477.5,219.2 L488,199 Q490,195.5 494,195.5 H517.5 Q536,205 555,205 Q574,205 592.5,195.5 H613 Q617,195.5 619,199 L632.5,219.2" class="o" />
<path d="M517.5,196 Q521,205 521.25,219.2" class="t" />
<line x1="537.5" y1="152.5" x2="595.4" y2="69.7" class="d" />
<line x1="595.4" y1="69.7" x2="688" y2="69.7" class="d" />
<polygon points="563.2,115.6 565.59,109.33 568.29,111.23" class="ar"/>
<polygon points="546.2,140 543.81,146.27 541.11,144.37" class="ar"/>
<text x="606" y="65.6" class="tx" text-anchor="start" font-size="10">DN100 /</text>
<circle cx="659.5" cy="62.2" r="3" class="ph" />
<line x1="658.6" y1="66" x2="660.4" y2="58.4" class="ph" />
<text x="667" y="65.6" class="tx" text-anchor="start" font-size="10">110</text>
<line x1="654.8" y1="219.2" x2="714" y2="219.2" class="d" />
<line x1="673.3" y1="166.5" x2="673.3" y2="219.2" class="d" />
<polygon points="673.3,166.5 674.95,173 671.65,173" class="ar"/>
<polygon points="673.3,219.2 671.65,212.7 674.95,212.7" class="ar"/>
<line x1="694" y1="147" x2="694" y2="219.2" class="d" />
<polygon points="694,147 695.65,153.5 692.35,153.5" class="ar"/>
<polygon points="694,219.2 692.35,212.7 695.65,212.7" class="ar"/>
<line x1="710" y1="127.5" x2="710" y2="219.2" class="d" />
<polygon points="710,127.5 711.65,134 708.35,134" class="ar"/>
<polygon points="710,219.2 708.35,212.7 711.65,212.7" class="ar"/>
<text x="668.5" y="193.5" class="tx" text-anchor="middle" font-size="10" transform="rotate(-90 668.5 193.5)">180</text>
<text x="689.6" y="184" class="tx" text-anchor="middle" font-size="10" transform="rotate(-90 689.6 184)">250</text>
<text x="705.6" y="173" class="tx" text-anchor="middle" font-size="10" transform="rotate(-90 705.6 173)">315</text>
<path d="M449.9,488 V648 Q449.9,650.2 452,650.2 H457.6" class="t" />
<path d="M457.6,654.3 H452 Q449.9,654.3 449.9,656.5 V785" class="t" />
<polygon points="457,650.5 460,652.25 457,654" fill="#555"/>
<line x1="457.4" y1="654.3" x2="457.4" y2="767" class="t" />
<path d="M656.4,488 V648 Q656.4,650.2 654.3,650.2 H648.7" class="t" />
<path d="M648.7,654.3 H654.3 Q656.4,654.3 656.4,656.5 V785" class="t" />
<polygon points="649.3,650.5 646.3,652.25 649.3,654" fill="#555"/>
<line x1="649.2" y1="654.3" x2="649.2" y2="768" class="t" />
<line x1="433.75" y1="530.8" x2="696" y2="530.8" class="d" />
<path d="M450.2,556 Q450.2,532.3 474,532.3 H632.5 Q655,532.3 656,552 V605 Q656,633 630,635 Q600,633 590,634 Q565,637 540,632.5 Q510,629 490,633 Q480,636 470,630 Q451,620 450.2,607 Z" class="o" />
<path d="M523,532.5 L553,547.5 L584,533.5" class="t" />
<line x1="484" y1="531.6" x2="500" y2="531.6" class="dk2" />
<line x1="500" y1="531.6" x2="507" y2="531.6" class="dk2" />
<line x1="517" y1="531.6" x2="521" y2="531.6" class="dk2" />
<line x1="551" y1="531.6" x2="554" y2="531.6" class="dk2" />
<line x1="586" y1="531.6" x2="588.5" y2="531.6" class="dk2" />
<line x1="601" y1="531.6" x2="605" y2="531.6" class="dk2" />
<circle cx="479.3" cy="568" r="11.25" class="o" />
<circle cx="479.3" cy="568" r="8.3" class="t" />
<circle cx="511.5" cy="568" r="8.6" class="o" />
<circle cx="511.5" cy="568" r="6.75" class="t" />
<rect x="479.3" y="585.25" width="23.2" height="23.25" class="o" rx="1.2"/>
<line x1="435" y1="568" x2="495.5" y2="568" class="d" />
<line x1="505" y1="568" x2="524" y2="568" class="t" />
<line x1="479.3" y1="518" x2="479.3" y2="555" class="d" />
<line x1="479.3" y1="580" x2="479.3" y2="583" class="t" />
<line x1="511.5" y1="503" x2="511.5" y2="568" class="d" />
<line x1="500" y1="556" x2="441.25" y2="589.5" class="d" />
<line x1="441.25" y1="589.5" x2="366.25" y2="589.5" class="d" />
<polygon points="489.1,562.4 493.93,557.75 495.56,560.61" class="ar"/>
<polygon points="469.5,573.6 464.67,578.25 463.04,575.39" class="ar"/>
<line x1="530" y1="555.7" x2="446.25" y2="611.25" class="d" />
<line x1="446.25" y1="611.25" x2="366.25" y2="611.25" class="d" />
<polygon points="518.7,563.25 523.2,558.28 525.03,561.03" class="ar"/>
<polygon points="504.3,572.75 499.8,577.72 497.97,574.97" class="ar"/>
<text x="373.75" y="585" class="tx" text-anchor="start" font-size="10">DN70 /</text>
<circle cx="420.5" cy="581.6" r="3" class="ph" />
<line x1="419.6" y1="585.4" x2="421.4" y2="577.8" class="ph" />
<text x="427.5" y="585" class="tx" text-anchor="start" font-size="10">75</text>
<text x="373.75" y="607" class="tx" text-anchor="start" font-size="10">DN50 /</text>
<circle cx="420.5" cy="603.6" r="3" class="ph" />
<line x1="419.6" y1="607.4" x2="421.4" y2="599.8" class="ph" />
<text x="427.5" y="607" class="tx" text-anchor="start" font-size="10">50</text>
<polygon points="579,597 579,597.22 579,597.45 578.99,597.67 578.98,597.89 578.98,598.11 578.97,598.33 578.95,598.56 578.94,598.78 578.92,599 578.9,599.22 578.88,599.44 578.86,599.67 578.84,599.89 578.81,600.11 578.78,600.33 578.75,600.55 578.72,600.77 578.69,600.99 578.65,601.21 578.61,601.43 578.57,601.65 578.53,601.87 578.49,602.08 578.44,602.3 578.4,602.52 578.35,602.74 578.3,602.95 578.24,603.17 578.19,603.38 578.13,603.6 578.07,603.81 578.01,604.03 577.95,604.24 577.89,604.46 577.82,604.67 577.75,604.88 577.68,605.09 577.61,605.3 577.54,605.51 577.48,605.73 577.42,605.94 577.36,606.16 577.31,606.38 577.27,606.61 577.24,606.84 577.23,607.07 577.22,607.31 577.23,607.56 577.25,607.83 577.29,608.1 577.35,608.38 577.43,608.67 577.53,608.98 577.65,609.3 577.79,609.65 577.96,610 578.15,610.38 578.36,610.78 578.6,611.2 578.87,611.65 578.35,611.64 577.87,611.64 577.41,611.65 576.99,611.68 576.6,611.71 576.23,611.76 575.89,611.82 575.57,611.89 575.28,611.97 575.01,612.06 574.75,612.16 574.51,612.27 574.29,612.39 574.08,612.51 573.89,612.65 573.71,612.79 573.53,612.93 573.36,613.09 573.2,613.24 573.05,613.4 572.9,613.57 572.75,613.73 572.6,613.9 572.45,614.06 572.3,614.23 572.15,614.39 572,614.55 571.84,614.71 571.69,614.87 571.53,615.03 571.37,615.19 571.21,615.34 571.05,615.5 570.89,615.65 570.73,615.8 570.56,615.95 570.4,616.1 570.23,616.25 570.06,616.39 569.89,616.53 569.72,616.68 569.55,616.82 569.37,616.96 569.2,617.09 569.02,617.23 568.85,617.37 568.67,617.5 568.49,617.63 568.31,617.76 568.13,617.89 567.94,618.02 567.76,618.14 567.57,618.26 567.39,618.39 567.2,618.51 567.01,618.63 566.82,618.74 566.63,618.86 566.44,618.97 566.25,619.08 566.06,619.19 565.86,619.3 565.67,619.41 565.47,619.52 565.27,619.62 565.08,619.72 564.88,619.82 564.68,619.92 564.48,620.02 564.28,620.11 564.07,620.2 563.87,620.3 563.67,620.39 563.46,620.47 563.26,620.56 563.05,620.64 562.85,620.73 562.64,620.81 562.43,620.89 562.22,620.96 562.01,621.04 561.8,621.11 561.59,621.18 561.38,621.25 561.17,621.32 560.96,621.39 560.74,621.45 560.53,621.51 560.31,621.57 560.1,621.63 559.88,621.69 559.67,621.74 559.45,621.8 559.24,621.85 559.02,621.9 558.8,621.94 558.58,621.99 558.37,622.03 558.15,622.08 557.93,622.13 557.71,622.18 557.5,622.24 557.28,622.31 557.07,622.39 556.85,622.48 556.64,622.58 556.43,622.7 556.22,622.83 556,622.98 555.79,623.15 555.57,623.35 555.36,623.56 555.14,623.8 554.92,624.07 554.69,624.36 554.47,624.68 554.23,625.04 554,625.42 553.75,625.84 553.5,626.3 553.25,625.84 553,625.42 552.77,625.04 552.53,624.68 552.31,624.36 552.08,624.07 551.86,623.8 551.64,623.56 551.43,623.35 551.21,623.15 551,622.98 550.78,622.83 550.57,622.7 550.36,622.58 550.15,622.48 549.93,622.39 549.72,622.31 549.5,622.24 549.29,622.18 549.07,622.13 548.85,622.08 548.63,622.03 548.42,621.99 548.2,621.94 547.98,621.9 547.76,621.85 547.55,621.8 547.33,621.74 547.12,621.69 546.9,621.63 546.69,621.57 546.47,621.51 546.26,621.45 546.04,621.39 545.83,621.32 545.62,621.25 545.41,621.18 545.2,621.11 544.99,621.04 544.78,620.96 544.57,620.89 544.36,620.81 544.15,620.73 543.95,620.64 543.74,620.56 543.54,620.47 543.33,620.39 543.13,620.3 542.93,620.2 542.72,620.11 542.52,620.02 542.32,619.92 542.12,619.82 541.92,619.72 541.73,619.62 541.53,619.52 541.33,619.41 541.14,619.3 540.94,619.19 540.75,619.08 540.56,618.97 540.37,618.86 540.18,618.74 539.99,618.63 539.8,618.51 539.61,618.39 539.43,618.26 539.24,618.14 539.06,618.02 538.87,617.89 538.69,617.76 538.51,617.63 538.33,617.5 538.15,617.37 537.98,617.23 537.8,617.09 537.63,616.96 537.45,616.82 537.28,616.68 537.11,616.53 536.94,616.39 536.77,616.25 536.6,616.1 536.44,615.95 536.27,615.8 536.11,615.65 535.95,615.5 535.79,615.34 535.63,615.19 535.47,615.03 535.31,614.87 535.16,614.71 535,614.55 534.85,614.39 534.7,614.23 534.55,614.06 534.4,613.9 534.25,613.73 534.1,613.57 533.95,613.4 533.8,613.24 533.64,613.09 533.47,612.93 533.29,612.79 533.11,612.65 532.92,612.51 532.71,612.39 532.49,612.27 532.25,612.16 531.99,612.06 531.72,611.97 531.43,611.89 531.11,611.82 530.77,611.76 530.4,611.71 530.01,611.68 529.59,611.65 529.13,611.64 528.65,611.64 528.13,611.65 528.4,611.2 528.64,610.78 528.85,610.38 529.04,610 529.21,609.65 529.35,609.3 529.47,608.98 529.57,608.67 529.65,608.38 529.71,608.1 529.75,607.83 529.77,607.56 529.78,607.31 529.77,607.07 529.76,606.84 529.73,606.61 529.69,606.38 529.64,606.16 529.58,605.94 529.52,605.73 529.46,605.51 529.39,605.3 529.32,605.09 529.25,604.88 529.18,604.67 529.11,604.46 529.05,604.24 528.99,604.03 528.93,603.81 528.87,603.6 528.81,603.38 528.76,603.17 528.7,602.95 528.65,602.74 528.6,602.52 528.56,602.3 528.51,602.08 528.47,601.87 528.43,601.65 528.39,601.43 528.35,601.21 528.31,600.99 528.28,600.77 528.25,600.55 528.22,600.33 528.19,600.11 528.16,599.89 528.14,599.67 528.12,599.44 528.1,599.22 528.08,599 528.06,598.78 528.05,598.56 528.03,598.33 528.02,598.11 528.02,597.89 528.01,597.67 528,597.45 528,597.22 528,597 528,596.78 528,596.55 528.01,596.33 528.02,596.11 528.02,595.89 528.03,595.67 528.05,595.44 528.06,595.22 528.08,595 528.1,594.78 528.12,594.56 528.14,594.33 528.16,594.11 528.19,593.89 528.22,593.67 528.25,593.45 528.28,593.23 528.31,593.01 528.35,592.79 528.39,592.57 528.43,592.35 528.47,592.13 528.51,591.92 528.56,591.7 528.6,591.48 528.65,591.26 528.7,591.05 528.76,590.83 528.81,590.62 528.87,590.4 528.93,590.19 528.99,589.97 529.05,589.76 529.11,589.54 529.18,589.33 529.25,589.12 529.32,588.91 529.39,588.7 529.46,588.49 529.52,588.27 529.58,588.06 529.64,587.84 529.69,587.62 529.73,587.39 529.76,587.16 529.77,586.93 529.78,586.69 529.77,586.44 529.75,586.17 529.71,585.9 529.65,585.62 529.57,585.33 529.47,585.02 529.35,584.7 529.21,584.35 529.04,584 528.85,583.62 528.64,583.22 528.4,582.8 528.13,582.35 528.65,582.36 529.13,582.36 529.59,582.35 530.01,582.32 530.4,582.29 530.77,582.24 531.11,582.18 531.43,582.11 531.72,582.03 531.99,581.94 532.25,581.84 532.49,581.73 532.71,581.61 532.92,581.49 533.11,581.35 533.29,581.21 533.47,581.07 533.64,580.91 533.8,580.76 533.95,580.6 534.1,580.43 534.25,580.27 534.4,580.1 534.55,579.94 534.7,579.77 534.85,579.61 535,579.45 535.16,579.29 535.31,579.13 535.47,578.97 535.63,578.81 535.79,578.66 535.95,578.5 536.11,578.35 536.27,578.2 536.44,578.05 536.6,577.9 536.77,577.75 536.94,577.61 537.11,577.47 537.28,577.32 537.45,577.18 537.63,577.04 537.8,576.91 537.98,576.77 538.15,576.63 538.33,576.5 538.51,576.37 538.69,576.24 538.87,576.11 539.06,575.98 539.24,575.86 539.43,575.74 539.61,575.61 539.8,575.49 539.99,575.37 540.18,575.26 540.37,575.14 540.56,575.03 540.75,574.92 540.94,574.81 541.14,574.7 541.33,574.59 541.53,574.48 541.73,574.38 541.92,574.28 542.12,574.18 542.32,574.08 542.52,573.98 542.72,573.89 542.93,573.8 543.13,573.7 543.33,573.61 543.54,573.53 543.74,573.44 543.95,573.36 544.15,573.27 544.36,573.19 544.57,573.11 544.78,573.04 544.99,572.96 545.2,572.89 545.41,572.82 545.62,572.75 545.83,572.68 546.04,572.61 546.26,572.55 546.47,572.49 546.69,572.43 546.9,572.37 547.12,572.31 547.33,572.26 547.55,572.2 547.76,572.15 547.98,572.1 548.2,572.06 548.42,572.01 548.63,571.97 548.85,571.92 549.07,571.87 549.29,571.82 549.5,571.76 549.72,571.69 549.93,571.61 550.15,571.52 550.36,571.42 550.57,571.3 550.78,571.17 551,571.02 551.21,570.85 551.43,570.65 551.64,570.44 551.86,570.2 552.08,569.93 552.31,569.64 552.53,569.32 552.77,568.96 553,568.58 553.25,568.16 553.5,567.7 553.75,568.16 554,568.58 554.23,568.96 554.47,569.32 554.69,569.64 554.92,569.93 555.14,570.2 555.36,570.44 555.57,570.65 555.79,570.85 556,571.02 556.22,571.17 556.43,571.3 556.64,571.42 556.85,571.52 557.07,571.61 557.28,571.69 557.5,571.76 557.71,571.82 557.93,571.87 558.15,571.92 558.37,571.97 558.58,572.01 558.8,572.06 559.02,572.1 559.24,572.15 559.45,572.2 559.67,572.26 559.88,572.31 560.1,572.37 560.31,572.43 560.53,572.49 560.74,572.55 560.96,572.61 561.17,572.68 561.38,572.75 561.59,572.82 561.8,572.89 562.01,572.96 562.22,573.04 562.43,573.11 562.64,573.19 562.85,573.27 563.05,573.36 563.26,573.44 563.46,573.53 563.67,573.61 563.87,573.7 564.07,573.8 564.28,573.89 564.48,573.98 564.68,574.08 564.88,574.18 565.08,574.28 565.27,574.38 565.47,574.48 565.67,574.59 565.86,574.7 566.06,574.81 566.25,574.92 566.44,575.03 566.63,575.14 566.82,575.26 567.01,575.37 567.2,575.49 567.39,575.61 567.57,575.74 567.76,575.86 567.94,575.98 568.13,576.11 568.31,576.24 568.49,576.37 568.67,576.5 568.85,576.63 569.02,576.77 569.2,576.91 569.37,577.04 569.55,577.18 569.72,577.32 569.89,577.47 570.06,577.61 570.23,577.75 570.4,577.9 570.56,578.05 570.73,578.2 570.89,578.35 571.05,578.5 571.21,578.66 571.37,578.81 571.53,578.97 571.69,579.13 571.84,579.29 572,579.45 572.15,579.61 572.3,579.77 572.45,579.94 572.6,580.1 572.75,580.27 572.9,580.43 573.05,580.6 573.2,580.76 573.36,580.91 573.53,581.07 573.71,581.21 573.89,581.35 574.08,581.49 574.29,581.61 574.51,581.73 574.75,581.84 575.01,581.94 575.28,582.03 575.57,582.11 575.89,582.18 576.23,582.24 576.6,582.29 576.99,582.32 577.41,582.35 577.87,582.36 578.35,582.36 578.87,582.35 578.6,582.8 578.36,583.22 578.15,583.62 577.96,584 577.79,584.35 577.65,584.7 577.53,585.02 577.43,585.33 577.35,585.62 577.29,585.9 577.25,586.17 577.23,586.44 577.22,586.69 577.23,586.93 577.24,587.16 577.27,587.39 577.31,587.62 577.36,587.84 577.42,588.06 577.48,588.27 577.54,588.49 577.61,588.7 577.68,588.91 577.75,589.12 577.82,589.33 577.89,589.54 577.95,589.76 578.01,589.97 578.07,590.19 578.13,590.4 578.19,590.62 578.24,590.83 578.3,591.05 578.35,591.26 578.4,591.48 578.44,591.7 578.49,591.92 578.53,592.13 578.57,592.35 578.61,592.57 578.65,592.79 578.69,593.01 578.72,593.23 578.75,593.45 578.78,593.67 578.81,593.89 578.84,594.11 578.86,594.33 578.88,594.56 578.9,594.78 578.92,595 578.94,595.22 578.95,595.44 578.97,595.67 578.98,595.89 578.98,596.11 578.99,596.33 579,596.55 579,596.78" class="o"/>
<line x1="570.71" y1="602.26" x2="577.89" y2="604.46" class="o1" />
<line x1="566.66" y1="609.28" x2="572.15" y2="614.39" class="o1" />
<line x1="557.55" y1="614.54" x2="559.24" y2="621.85" class="o1" />
<line x1="549.45" y1="614.54" x2="547.76" y2="621.85" class="o1" />
<line x1="540.34" y1="609.28" x2="534.85" y2="614.39" class="o1" />
<line x1="536.29" y1="602.26" x2="529.11" y2="604.46" class="o1" />
<line x1="536.29" y1="591.74" x2="529.11" y2="589.54" class="o1" />
<line x1="540.34" y1="584.72" x2="534.85" y2="579.61" class="o1" />
<line x1="549.45" y1="579.46" x2="547.76" y2="572.15" class="o1" />
<line x1="557.55" y1="579.46" x2="559.24" y2="572.15" class="o1" />
<line x1="566.66" y1="584.72" x2="572.15" y2="579.61" class="o1" />
<line x1="570.71" y1="591.74" x2="577.89" y2="589.54" class="o1" />
<circle cx="553.5" cy="597" r="18" class="o1" />
<circle cx="553.5" cy="597" r="16.2" class="o" />
<circle cx="553.5" cy="597" r="14" class="t" />
<circle cx="553.5" cy="597" r="10.3" class="o1" />
<rect x="563.2" y="595.7" width="2.6" height="2.6" fill="#333" transform="rotate(0 564.5 597)"/>
<rect x="552.2" y="606.7" width="2.6" height="2.6" fill="#333" transform="rotate(90 553.5 608)"/>
<rect x="541.2" y="595.7" width="2.6" height="2.6" fill="#333" transform="rotate(180 542.5 597)"/>
<rect x="552.2" y="584.7" width="2.6" height="2.6" fill="#333" transform="rotate(270 553.5 586)"/>
<path d="M541,588 Q540,597 543,604" class="t" />
<path d="M566,588 Q567,597 564,604" class="t" />
<circle cx="613" cy="582" r="27.6" class="o" />
<circle cx="613" cy="582" r="21.6" class="o" />
<line x1="584" y1="582" x2="600" y2="582" class="t" />
<line x1="603" y1="582" x2="605" y2="582" class="t" />
<line x1="608" y1="582" x2="618" y2="582" class="t" />
<line x1="621" y1="582" x2="623" y2="582" class="t" />
<line x1="626" y1="582" x2="675" y2="582" class="d" />
<line x1="613" y1="600" x2="613" y2="612" class="t" />
<line x1="610.75" y1="561" x2="614.25" y2="603.75" class="d" />
<polygon points="610.75,560.5 612.93,566.84 609.64,567.11" class="ar"/>
<polygon points="614.25,604 612.07,597.66 615.36,597.39" class="ar"/>
<line x1="607" y1="522.5" x2="612.5" y2="580" class="d" />
<line x1="513.75" y1="522.5" x2="607" y2="522.5" class="d" />
<line x1="612.5" y1="518" x2="612.5" y2="552" class="d" />
<text x="522" y="519.5" class="tx" text-anchor="start" font-size="10">DN150 /</text>
<circle cx="574.5" cy="516.2" r="3" class="ph" />
<line x1="573.6" y1="520" x2="575.4" y2="512.4" class="ph" />
<text x="582.5" y="519.5" class="tx" text-anchor="start" font-size="10">160</text>
<path d="M450.2,685 Q452,737.5 505,737.5 H649" class="t" />
<path d="M656.4,683 Q655,737.5 606,737.5" class="t" />
<line x1="543.75" y1="739.3" x2="562.5" y2="739.3" class="dk2" />
<circle cx="504.5" cy="685" r="45.1" class="o" />
<circle cx="504.5" cy="685" r="35.5" class="o" />
<circle cx="542.28" cy="698.75" r="1.4" class="t" />
<circle cx="521.49" cy="721.43" r="1.4" class="t" />
<circle cx="490.75" cy="722.78" r="1.4" class="t" />
<circle cx="468.07" cy="701.99" r="1.4" class="t" />
<circle cx="466.72" cy="671.25" r="1.4" class="t" />
<circle cx="487.51" cy="648.57" r="1.4" class="t" />
<circle cx="518.25" cy="647.22" r="1.4" class="t" />
<circle cx="540.93" cy="668.01" r="1.4" class="t" />
<line x1="467.5" y1="685" x2="541.5" y2="685" class="cl" stroke-dashoffset="11.25"/>
<line x1="504.5" y1="648" x2="504.5" y2="716" class="cl" stroke-dashoffset="0.5"/>
<line x1="504.5" y1="720" x2="504.5" y2="756" class="o1" />
<circle cx="553" cy="661" r="4.3" class="o" />
<circle cx="602.7" cy="685" r="45.2" class="o" />
<circle cx="640.29" cy="698.68" r="1.9" class="o1" />
<circle cx="640.29" cy="698.68" r="0.8" class="t" />
<circle cx="619.6" cy="721.25" r="1.9" class="o1" />
<circle cx="619.6" cy="721.25" r="0.8" class="t" />
<circle cx="589.02" cy="722.59" r="1.9" class="o1" />
<circle cx="589.02" cy="722.59" r="0.8" class="t" />
<circle cx="566.45" cy="701.9" r="1.9" class="o1" />
<circle cx="566.45" cy="701.9" r="0.8" class="t" />
<circle cx="565.11" cy="671.32" r="1.9" class="o1" />
<circle cx="565.11" cy="671.32" r="0.8" class="t" />
<circle cx="585.8" cy="648.75" r="1.9" class="o1" />
<circle cx="585.8" cy="648.75" r="0.8" class="t" />
<circle cx="616.38" cy="647.41" r="1.9" class="o1" />
<circle cx="616.38" cy="647.41" r="0.8" class="t" />
<circle cx="638.95" cy="668.1" r="1.9" class="o1" />
<circle cx="638.95" cy="668.1" r="0.8" class="t" />
<path d="M579.9,673.75 A26,26 0 1 1 580.2,697" class="o1" />
<path d="M609,718 Q622,713 630,703 L628.5,701 Q621,710 608,715" class="t" />
<circle cx="603" cy="685" r="19" class="o" />
<path d="M590,673.75 H572 Q567.75,673.75 567.75,678 V693 Q567.75,697 572,697 H590" class="o" />
<circle cx="576" cy="685" r="6.5" class="o1" />
<circle cx="576" cy="685" r="4.8" class="g" />
<circle cx="576" cy="685" r="3.2" class="t" />
<circle cx="576" cy="685" r="1.2" class="t" />
<rect x="587.25" y="681.7" width="32.25" height="7.8" class="o" rx="1"/>
<line x1="590" y1="685.5" x2="617" y2="685.5" class="dk2" />
<path d="M598.5,631 V641 Q598.5,645.5 603,645.5 Q607.5,645.5 607.5,641 V631" class="o" />
<line x1="598.5" y1="638" x2="607.5" y2="638" class="t" />
<path d="M600,646 L597,657.5 M606,646 L608.5,657.5" class="o" />
<path d="M594,711 V730 M612,711 V730" class="o" />
<rect x="588" y="730" width="29.25" height="6.75" class="o"/>
<circle cx="592.2" cy="714.7" r="2.2" class="o" />
<circle cx="600.1" cy="714.7" r="2.2" class="o" />
<circle cx="605.8" cy="714.7" r="2.2" class="o" />
<ellipse cx="627.7" cy="691" rx="1.3" ry="2" fill="#333"/>
<line x1="603" y1="670" x2="603" y2="700" class="t" />
<line x1="590" y1="685" x2="630" y2="685" class="t" />
<line x1="437.4" y1="530.8" x2="437.4" y2="568" class="d" />
<polygon points="437.4,530.8 439.05,537.3 435.75,537.3" class="ar"/>
<polygon points="437.4,568 435.75,561.5 439.05,561.5" class="ar"/>
<text x="433" y="549.4" class="tx" text-anchor="middle" font-size="10" transform="rotate(-90 433 549.4)">128</text>
<line x1="672" y1="530.8" x2="672" y2="582" class="d" />
<polygon points="672,530.8 673.65,537.3 670.35,537.3" class="ar"/>
<polygon points="672,582 670.35,575.5 673.65,575.5" class="ar"/>
<text x="666.8" y="556" class="tx" text-anchor="middle" font-size="10" transform="rotate(-90 666.8 556)">178</text>
<line x1="693" y1="530.8" x2="693" y2="740.5" class="d" />
<polygon points="693,530.8 694.65,537.3 691.35,537.3" class="ar"/>
<polygon points="693,740.5 691.35,734 694.65,734" class="ar"/>
<text x="689.5" y="635.7" class="tx" text-anchor="middle" font-size="10" transform="rotate(-90 689.5 635.7)">726</text>
<line x1="649.2" y1="652" x2="675.8" y2="652" class="d" />
<line x1="672.2" y1="652" x2="672.2" y2="740.5" class="d" />
<polygon points="672.2,652 673.85,658.5 670.55,658.5" class="ar"/>
<polygon points="672.2,740.5 670.55,734 673.85,734" class="ar"/>
<text x="668.4" y="696.5" class="tx" text-anchor="middle" font-size="10" transform="rotate(-90 668.4 696.5)">306</text>
<line x1="540" y1="740.5" x2="696" y2="740.5" class="t" />
<line x1="450" y1="494" x2="656.25" y2="494" class="d" />
<polygon points="450,494 456.5,492.35 456.5,495.65" class="ar"/>
<polygon points="656.25,494 649.75,495.65 649.75,492.35" class="ar"/>
<text x="552" y="490.5" class="tx" text-anchor="middle" font-size="10">712</text>
<line x1="450" y1="508.2" x2="511.5" y2="508.2" class="d" />
<polygon points="450,508.2 456.5,506.55 456.5,509.85" class="ar"/>
<polygon points="511.5,508.2 505,509.85 505,506.55" class="ar"/>
<text x="480" y="505" class="tx" text-anchor="middle" font-size="10">212</text>
<line x1="450" y1="522.6" x2="479.3" y2="522.6" class="d" />
<polygon points="450,522.6 456.5,520.95 456.5,524.25" class="ar"/>
<polygon points="479.3,522.6 472.8,524.25 472.8,520.95" class="ar"/>
<text x="463.5" y="519.5" class="tx" text-anchor="middle" font-size="10">100</text>
<line x1="612.5" y1="522.6" x2="656.25" y2="522.6" class="d" />
<polygon points="612.5,522.6 619,520.95 619,524.25" class="ar"/>
<polygon points="656.25,522.6 649.75,524.25 649.75,520.95" class="ar"/>
<text x="634" y="519.5" class="tx" text-anchor="middle" font-size="10">150</text>
<line x1="450" y1="752.5" x2="504.5" y2="752.5" class="d" />
<polygon points="450,752.5 456.5,750.85 456.5,754.15" class="ar"/>
<polygon points="504.5,752.5 498,754.15 498,750.85" class="ar"/>
<text x="477" y="750" class="tx" text-anchor="middle" font-size="10">186</text>
<line x1="457" y1="764.5" x2="649.2" y2="764.5" class="d" />
<polygon points="457,764.5 463.5,762.85 463.5,766.15" class="ar"/>
<polygon points="649.2,764.5 642.7,766.15 642.7,762.85" class="ar"/>
<text x="552" y="762.5" class="tx" text-anchor="middle" font-size="10">662</text>
<line x1="450" y1="780.5" x2="656.7" y2="780.5" class="d" />
<polygon points="450,780.5 456.5,778.85 456.5,782.15" class="ar"/>
<polygon points="656.7,780.5 650.2,782.15 650.2,778.85" class="ar"/>
<text x="552" y="778" class="tx" text-anchor="middle" font-size="10">712</text>
</svg></body></html>
